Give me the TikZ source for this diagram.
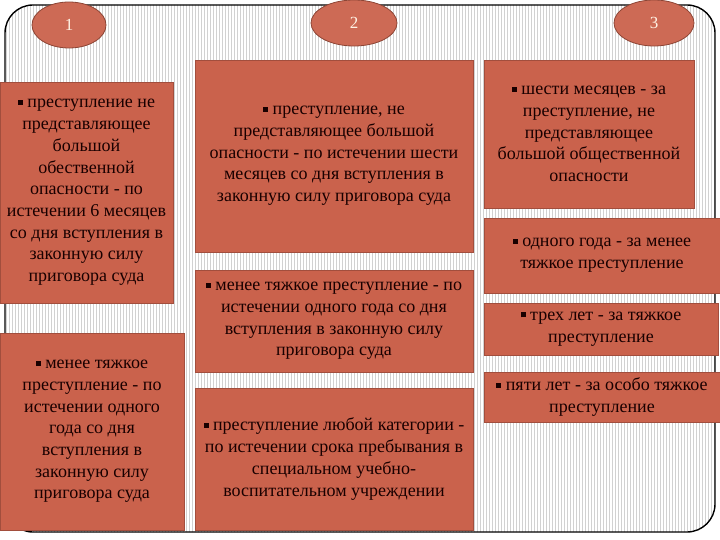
\documentclass[tikz,border=0pt]{standalone}
\usepackage{fontspec}
\setmainfont{Liberation Serif}
\usepackage{xcolor}
\usetikzlibrary{patterns,shapes.geometric}
\definecolor{rust}{RGB}{202,98,76}
\colorlet{card fill}{rust}
\colorlet{card edge}{rust!80!black}
\colorlet{card text}{black!90!red}
\colorlet{badge fill}{rust!95!white}
\colorlet{badge edge}{rust!70!black}
\def\mark{\rule[3pt]{5pt}{5pt}\ }
\def\frameline{(5,5) rectangle (715,532)}
\tikzset{card/.style={rectangle, fill=card fill, draw=card edge, line width=0.6pt,
    inner sep=0pt, align=center, text=card text,
    font=\fontsize{18}{21.7}\selectfont},
  badge/.style={ellipse, fill=badge fill, draw=badge edge, line width=0.8pt,
    inner sep=0pt, minimum height=46pt, text=white!90!orange,
    font=\fontsize{17}{18}\selectfont},
  outline/.style={draw=black, line width=1.4pt, rounded corners=28pt}}

\begin{document}
\begin{tikzpicture}[x=1pt,y=-1pt]
    \useasboundingbox (0,0) rectangle (720,540);
    \fill[white] (0,0) rectangle (720,540);
    \fill[pattern=vertical lines, pattern color=black!18, rounded corners=28pt] \frameline;
    \draw[outline] \frameline;
    % column 1
    \node[badge, minimum width=74pt] (one) at (69,25) {1};
    \node[card, minimum width=173pt, minimum height=221pt] (one top) at (86.5,192.5)
      {\mark преступление не\\ представляющее\\ большой\\ обественной\\ опасности - по\\
       истечении 6 месяцев\\ со дня вступления в\\ законную силу\\ приговора суда};
    \node[card, minimum width=184pt, minimum height=197pt] (one bottom) at (92,431.5)
      {\mark менее тяжкое\\ преступление - по\\ истечении одного\\ года со дня\\
       вступления в\\ законную силу\\ приговора суда};
    % column 2
    \node[badge, minimum width=86pt] (two) at (354,23) {2};
    \node[card, minimum width=278pt, minimum height=192pt] (two top) at (334,156)
      {\mark преступление, не\\ представляющее большой\\ опасности - по истечении шести\\
       месяцев со дня вступления в\\ законную силу приговора суда};
    \node[card, minimum width=278pt, minimum height=102pt] (two middle) at (334,321)
      {\mark менее тяжкое преступление - по\\ истечении одного года со дня\\
       вступления в законную силу\\ приговора суда};
    \node[card, minimum width=278pt, minimum height=142pt] (two bottom) at (334,459)
      {\mark преступление любой категории -\\ по истечении срока пребывания в\\
       специальном учебно-\\ воспитательном учреждении};
    % column 3
    \node[badge, minimum width=80pt] (three) at (654,23) {3};
    \node[card, minimum width=210pt, minimum height=148pt] (three a) at (589,134)
      {\mark шести месяцев - за\\ преступление, не\\ представляющее\\
       большой общественной\\ опасности};
    \node[card, minimum width=236pt, minimum height=75pt] (three b) at (602,255.5)
      {\mark одного года - за менее\\ тяжкое преступление};
    \node[card, minimum width=234pt, minimum height=52pt] (three c) at (601,329)
      {\mark трех лет - за тяжкое\\ преступление};
    \node[card, minimum width=236pt, minimum height=50pt] (three d) at (602,397)
      {\mark пяти лет - за особо тяжкое\\ преступление};
\end{tikzpicture}
\end{document}
